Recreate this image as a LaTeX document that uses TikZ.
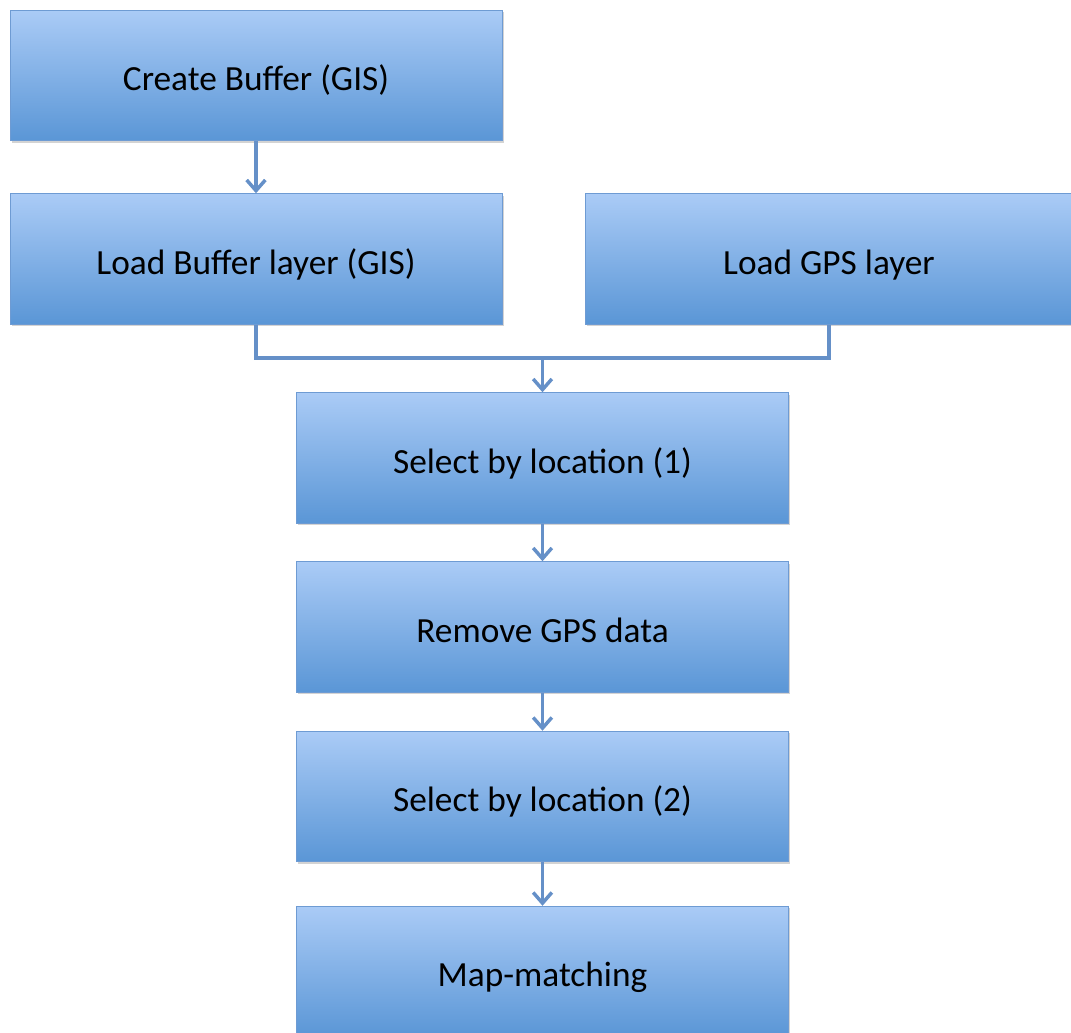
\documentclass[tikz,border=0pt]{standalone}
\usepackage{fontspec}
\setmainfont{Carlito}
\usetikzlibrary{arrows.meta,shadows}
\definecolor{boxtop}{HTML}{AACBF6}
\definecolor{boxbot}{HTML}{5A96D6}
\definecolor{boxline}{HTML}{6E9BD3}
\definecolor{linkcol}{HTML}{6590C8}
\tikzset{
  stepbox/.style={rectangle, draw=boxline, line width=0.6pt,
    top color=boxtop, bottom color=boxbot,
    minimum width=369pt, minimum height=98pt, inner sep=0pt,
    text depth=0pt, text height=23pt,
    font=\fontsize{26.5}{30}\selectfont,
    drop shadow={shadow xshift=1.2pt, shadow yshift=-1.5pt, opacity=0.35, fill=gray}},
  link/.style={draw=linkcol, line width=2.8pt},
  arrowlink/.style={link, -{Straight Barb[length=8pt,width=14pt,line width=2.6pt]}}
}
\begin{document}
\begin{tikzpicture}[x=0.75pt,y=-0.75pt]
\useasboundingbox (0,0) rectangle (1071,1032);
\clip (0,0) rectangle (1071,1032);
\node[stepbox] (create) at (256,75.5) {Create Buffer (GIS)};
\node[stepbox] (loadbuf) at (256,259) {Load Buffer layer (GIS)};
\node[stepbox, minimum width=366pt] (loadgps) at (829,259) {Load GPS layer};
\node[stepbox] (sel1) at (542.5,458) {Select by location (1)};
\node[stepbox] (remove) at (542.5,627) {Remove GPS data};
\node[stepbox] (sel2) at (542.5,796.5) {Select by location (2)};
\node[stepbox] (mapm) at (542.5,971.5) {Map-matching};
\coordinate (join) at (542.5,358);
\draw[arrowlink] (create) -- (loadbuf);
\draw[link] (loadbuf.south) |- (join);
\draw[link] (loadgps.south) |- (join);
\draw[arrowlink] (join) -- (sel1.north);
\draw[arrowlink] (sel1) -- (remove);
\draw[arrowlink] (remove) -- (sel2);
\draw[arrowlink] (sel2) -- (mapm);
\end{tikzpicture}
\end{document}
